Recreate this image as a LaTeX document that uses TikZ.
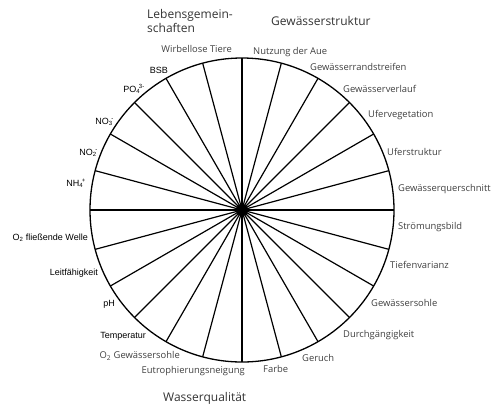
\documentclass[tikz,border=0pt]{standalone}
\usepackage{fontspec}
\setmainfont{Open Sans}
\newfontfamily\arialf{Liberation Sans}
\newcommand{\chemss}[2]{\textsubscript{#1}\kern-0.15em\textsuperscript{#2}}
\begin{document}
\begin{tikzpicture}[x=1pt,y=-1pt,
  gl/.style={font=\fontsize{9.4}{11}\selectfont, text=black!75, inner sep=0pt},
  bl/.style={font=\arialf\fontsize{9}{11}\selectfont, text=black, inner sep=0pt},
  tl/.style={font=\fontsize{12}{14}\selectfont, text=black!80, inner sep=0pt},
  spoke/.style={line width=1.2pt},
  rim/.style={line width=1.3pt}]
\useasboundingbox (0,0) rectangle (500,416);
\coordinate (c) at (242,210);
\foreach \a in {0,15,...,345} \draw[spoke] (c) -- ++(\a:152);
\draw[rim] (c) circle[radius=152pt];
\fill (c) circle[radius=6pt];
% titles
\node[tl, anchor=base west] (t1) at (147,18) {Lebensgemein-};
\node[tl, anchor=base west] (t2) at (147,32) {schaften};
\node[tl, anchor=base west] (t3) at (271,25) {Gewässerstruktur};
\node[tl, anchor=base west] (t4) at (163,401) {Wasserqualität};
% right labels
\node[gl, anchor=base west] (r1) at (253,54.5) {Nutzung der Aue};
\node[gl, anchor=base west] (r2) at (310,70.5) {Gewässerrandstreifen};
\node[gl, anchor=base west] (r3) at (343,92.5) {Gewässerverlauf};
\node[gl, anchor=base west] (r4) at (368,117.5) {Ufervegetation};
\node[gl, anchor=base west] (r5) at (387,155.5) {Uferstruktur};
\node[gl, anchor=base west] (r6) at (398,191.5) {Gewässerquerschnitt};
\node[gl, anchor=base west] (r7) at (398,229.5) {Strömungsbild};
\node[gl, anchor=base west] (r8) at (390,268.5) {Tiefenvarianz};
\node[gl, anchor=base west] (r9) at (371,306.5) {Gewässersohle};
\node[gl, anchor=base west] (r10) at (343,337.5) {Durchgängigkeit};
\node[gl, anchor=base west] (r11) at (302,361.5) {Geruch};
\node[gl, anchor=base west] (r12) at (263,372.5) {Farbe};
% left labels
\node[gl, anchor=base east] (l1) at (232,52.5) {Wirbellose Tiere};
\node[bl, anchor=base east] (l2) at (168,73.5) {BSB};
\node[bl, anchor=base east] (l3) at (145,92.5) {PO\chemss{4}{3-}};
\node[bl, anchor=base east] (l4) at (114,124.5) {NO\chemss{3}{-}};
\node[bl, anchor=base east] (l5) at (98,155.5) {NO\chemss{2}{-}};
\node[bl, anchor=base east] (l6) at (86,186.5) {NH\chemss{4}{+}};
\node[bl, anchor=base east] (l7) at (88,240.5) {O\textsubscript{2} fließende Welle};
\node[bl, anchor=base east] (l8) at (98,275.5) {Leitfähigkeit};
\node[bl, anchor=base east] (l9) at (115,306.5) {pH};
\node[bl, anchor=base east] (l10) at (146,338.5) {Temperatur};
\node[gl, anchor=base east] (l11) at (180,358.5) {O\textsubscript{2} Gewässersohle};
\node[gl, anchor=base east] (l12) at (245,373.5) {Eutrophierungsneigung};
\end{tikzpicture}
\end{document}
